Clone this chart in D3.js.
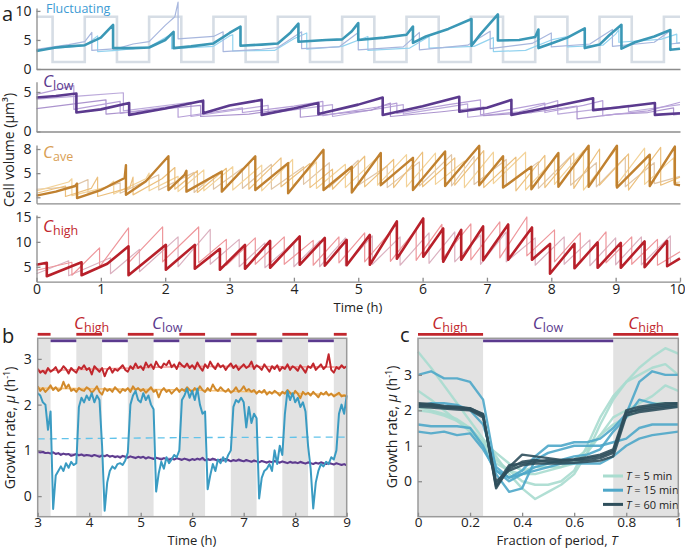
<!DOCTYPE html>
<html><head><meta charset="utf-8">
<script src="https://cdn.jsdelivr.net/npm/d3@7"></script>
<style>
body{margin:0;background:#fff}
text{font-family:"Open Sans",sans-serif;fill:#222}
</style>
</head><body>
<svg id="fig" width="685" height="549"></svg>
<script>
// ---------- panel a : cell volume traces, flat [t, v, t, v, ...] ----------
var sqSwitch = [0.25,0.75,1.25,1.75,2.25,2.75,3.25,3.75,4.25,4.75,5.25,5.75,6.25,6.75,7.25,7.75,8.25,8.75,9.25,9.75];
var sqLevels = [1.2, 9.0]; // low, high

var fluctThick = [0,3.1, 0.3,3.7, 0.5,3.9, 0.75,4.1, 1.0,5.4, 1.19,7.6, 1.19,3.6, 1.5,3.6, 1.75,3.7, 2.0,5.0, 2.13,6.4, 2.13,3.6, 2.4,3.9, 2.75,4.4, 3.0,6.2, 3.17,7.3, 3.17,4.0, 3.5,4.2, 3.75,4.4, 3.95,6.3, 4.07,7.8, 4.07,4.7, 4.5,5.0, 4.75,5.1, 4.9,6.5, 5.0,7.9, 5.0,5.0, 5.4,5.4, 5.75,5.9, 5.85,7.3, 5.85,4.5, 6.05,5.6, 6.4,6.9, 6.76,8.6, 6.76,4.0, 6.9,6.0, 7.17,9.4, 7.17,4.9, 7.5,5.0, 7.75,5.5, 7.8,6.8, 7.8,3.6, 8.0,4.4, 8.25,5.4, 8.52,7.0, 8.52,3.6, 8.75,4.2, 8.9,5.8, 9.09,7.6, 9.09,3.5, 9.3,4.6, 9.6,5.6, 9.85,6.7, 9.85,3.3, 10,3.5];
var fluctThinA = [0,3.4, 0.5,4.2, 0.75,4.7, 0.86,6.3, 0.86,3.2, 1.25,3.5, 1.5,4.3, 1.75,4.7, 2.0,7.5, 2.15,9.0, 2.2,11.5, 2.2,5.2, 2.75,5.6, 2.9,6.4, 2.9,3.0, 3.5,3.4, 3.75,3.7, 4.12,6.4, 4.12,3.5, 4.7,3.8, 5.0,6.3, 5.0,3.3, 5.7,3.8, 5.95,6.3, 5.95,3.3, 6.7,4.1, 7.05,6.5, 7.05,3.5, 7.7,4.4, 8.0,6.2, 8.0,3.8, 8.6,4.3, 8.75,5.4, 8.95,6.8, 8.95,3.9, 9.6,4.6, 9.85,6.6, 9.85,4.3, 10,4.5];
var fluctThinB = [0,3.3, 0.75,4.0, 0.95,5.7, 0.95,3.0, 1.25,3.2, 1.75,3.8, 2.1,6.0, 2.1,3.5, 2.75,3.9, 3.0,5.7, 3.05,5.9, 3.05,3.1, 3.7,3.2, 4.0,5.2, 4.2,6.2, 4.2,3.4, 4.75,3.9, 5.15,5.6, 5.15,3.2, 5.8,3.6, 6.1,5.6, 6.1,3.6, 6.8,3.9, 7.1,5.4, 7.1,3.0, 7.6,3.2, 8.0,5.0, 8.25,5.6, 8.25,3.8, 8.8,4.1, 9.0,6.0, 9.05,6.8, 9.05,4.6, 9.7,5.1, 9.95,6.0, 9.95,4.4, 10,4.5];

var lowThick = [0,4.3, 0.3,4.5, 0.62,4.8, 0.62,2.4, 1.0,2.8, 1.44,3.6, 1.44,2.1, 2.0,2.9, 2.59,3.9, 2.59,2.3, 3.0,3.3, 3.5,4.0, 3.5,2.1, 4.0,2.9, 4.38,3.6, 4.38,2.2, 5.0,3.4, 5.38,4.3, 5.38,2.1, 6.0,3.2, 6.57,4.4, 6.57,2.5, 7.0,3.0, 7.38,4.0, 7.38,2.1, 8.0,3.1, 8.65,4.2, 8.65,2.7, 9.0,3.0, 9.61,3.6, 9.61,2.1, 10,2.3];
var lowThinA = [0,4.7, 0.58,5.8, 0.58,2.8, 1.3,3.8, 1.3,2.3, 2.2,3.3, 2.2,1.8, 3.2,3.0, 3.2,2.4, 4.0,3.2, 4.45,3.8, 4.45,2.0, 5.3,3.1, 5.6,3.6, 5.6,2.3, 6.4,3.4, 6.9,4.0, 6.9,2.1, 7.9,3.6, 7.9,2.4, 8.5,3.3, 8.8,3.9, 8.8,2.0, 9.5,2.6, 10,3.7];
var lowThinB = [0,2.9, 1.08,4.0, 1.08,2.2, 1.5,2.5, 2.55,3.3, 2.55,1.9, 3.3,2.2, 4.1,3.1, 4.1,1.8, 5.2,2.7, 5.5,3.6, 5.5,1.9, 6.3,2.5, 6.95,3.1, 6.95,2.0, 7.7,2.4, 8.4,3.2, 8.4,1.6, 9.0,2.2, 9.5,2.4, 9.9,3.0, 9.9,2.1, 10,2.2];
var lowThinC = [0,4.1, 0.7,4.5, 1.35,4.9, 1.35,2.6, 2.4,3.7, 2.4,1.9, 3.6,3.3, 3.6,2.3, 4.6,3.4, 4.6,1.9, 5.7,3.4, 5.7,2.2, 6.7,3.5, 6.7,1.8, 7.5,2.5, 8.1,3.9, 8.1,2.2, 9.2,3.3, 9.2,2.5, 10,3.4];

var aveThick = [0,2.2, 0.3,2.7, 0.6,3.4, 0.63,3.7, 0.63,1.9, 1.0,2.9, 1.37,4.4, 1.39,6.0, 1.39,2.3, 1.7,4.0, 2.05,7.1, 2.05,2.9, 2.3,4.8, 2.33,5.3, 2.33,2.7, 2.88,5.2, 2.88,2.7, 3.4,7.1, 3.4,2.9, 3.91,6.25, 3.91,2.5, 4.46,7.9, 4.46,2.9, 4.9,5.8, 4.9,2.6, 5.35,7.5, 5.35,3.5, 5.85,6.9, 5.85,2.9, 6.35,7.7, 6.35,3.4, 6.88,8.4, 6.88,3.5, 7.25,7.1, 7.25,3.2, 7.69,5.8, 7.69,3.0, 8.11,7.5, 8.11,3.3, 8.58,8.4, 8.58,3.3, 9.02,8.4, 9.02,3.2, 9.53,7.3, 9.53,3.4, 9.92,8.3, 9.92,3.6, 10,3.5];
var aveThinA = [0,2.8, 0.5,3.9, 0.55,4.3, 0.55,2.2, 1.1,3.3, 1.2,4.0, 1.2,2.4, 1.7,4.3, 1.75,5.0, 1.75,2.8, 2.2,4.6, 2.2,2.7, 2.6,5.4, 2.6,2.8, 3.05,5.8, 3.05,2.9, 3.5,6.0, 3.5,2.8, 3.98,6.7, 3.98,3.4, 4.35,6.4, 4.35,3.1, 4.8,6.1, 4.8,3.2, 5.3,7.0, 5.3,3.5, 5.75,7.3, 5.75,3.3, 6.2,7.5, 6.2,3.6, 6.65,6.5, 6.65,3.2, 7.1,7.6, 7.1,3.7, 7.6,7.6, 7.6,2.9, 8.05,6.8, 8.05,3.6, 8.5,7.8, 8.5,2.9, 9.0,7.9, 9.0,3.4, 9.45,8.1, 9.45,3.6, 9.9,6.9, 9.9,3.8, 10,3.9];
var aveThinB = [0,2.5, 0.45,3.4, 0.45,2.1, 0.85,3.1, 0.95,4.5, 0.95,2.1, 1.45,3.2, 1.5,4.5, 1.5,2.3, 1.95,4.3, 2.15,5.7, 2.15,3.0, 2.5,5.3, 2.5,2.6, 2.95,5.6, 2.95,3.3, 3.3,6.2, 3.3,3.0, 3.8,6.9, 3.8,3.3, 4.25,6.2, 4.25,3.2, 4.6,5.5, 4.6,3.0, 5.1,7.1, 5.1,3.3, 5.55,6.7, 5.55,3.2, 6.0,7.6, 6.0,3.3, 6.5,6.9, 6.5,3.5, 6.95,7.8, 6.95,3.2, 7.45,7.0, 7.45,2.8, 7.9,7.2, 7.9,3.2, 8.35,7.5, 8.35,3.1, 8.75,8.0, 8.75,3.5, 9.2,7.4, 9.2,2.9, 9.7,8.2, 9.7,3.5, 10,4.5];
var aveThinC = [0,3.0, 0.55,3.3, 0.8,4.2, 0.8,2.5, 1.3,3.8, 1.3,2.5, 1.9,4.8, 1.9,2.9, 2.45,5.1, 2.45,2.6, 2.75,4.7, 2.75,3.0, 3.2,5.6, 3.2,3.1, 3.65,6.1, 3.65,3.0, 4.15,5.8, 4.15,3.6, 4.55,6.3, 4.55,3.2, 5.0,6.6, 5.0,3.5, 5.45,5.9, 5.45,3.2, 5.95,6.4, 5.95,3.4, 6.45,7.3, 6.45,3.4, 6.8,7.1, 6.8,3.6, 7.3,6.7, 7.3,3.4, 7.8,6.4, 7.8,3.1, 8.3,7.1, 8.3,3.5, 8.7,6.3, 8.7,3.3, 9.15,7.0, 9.15,3.3, 9.6,6.3, 9.6,3.7, 10,4.6];

var highThick = [0,5.4, 0.16,5.8, 0.16,3.1, 0.7,5.9, 0.7,3.3, 1.1,5.6, 1.43,9.1, 1.43,3.3, 2.01,9.4, 2.01,4.4, 2.46,9.4, 2.46,4.6, 2.85,8.6, 2.85,4.4, 3.24,9.4, 3.24,4.6, 3.63,10.2, 3.63,4.8, 4.09,11.1, 4.09,5.4, 4.48,10.8, 4.48,5.2, 4.82,10.4, 4.82,5.3, 5.18,11.4, 5.18,5.4, 5.6,14.1, 5.6,6.6, 6.01,14.7, 6.01,7.0, 6.32,12.7, 6.32,6.0, 6.6,12.4, 6.6,6.4, 6.94,13.1, 6.94,6.3, 7.33,13.5, 7.33,6.4, 7.7,12.9, 7.7,6.4, 7.98,9.6, 7.98,3.6, 8.36,9.6, 8.36,4.7, 8.72,9.9, 8.72,4.8, 9.08,9.8, 9.08,4.8, 9.45,10.1, 9.45,4.9, 9.8,10.2, 9.8,5.1, 10,6.7];
var highThinA = [0,4.3, 0.55,5.9, 0.55,3.3, 0.98,8.8, 0.98,5.0, 1.43,12.8, 1.43,5.8, 1.96,13.0, 1.96,6.0, 2.52,13.0, 2.52,5.8, 2.95,10.5, 2.95,5.3, 3.4,10.8, 3.4,5.5, 3.85,11.0, 3.85,5.5, 4.3,10.3, 4.3,5.3, 4.7,11.0, 4.7,5.8, 5.1,11.8, 5.1,6.0, 5.5,12.0, 5.5,6.1, 5.9,12.5, 5.9,6.3, 6.3,13.5, 6.3,6.5, 6.75,13.6, 6.75,6.4, 7.2,14.0, 7.2,6.8, 7.62,15.0, 7.62,7.2, 8.05,12.4, 8.05,6.0, 8.45,11.8, 8.45,5.8, 8.85,12.0, 8.85,5.8, 9.25,11.0, 9.25,5.5, 9.65,10.5, 9.65,5.3, 10,8.0];
var highThinB = [0,3.6, 0.5,6.2, 0.5,3.2, 1.15,6.8, 1.15,3.6, 1.6,8.5, 1.6,4.0, 2.2,11.0, 2.2,5.0, 2.7,12.5, 2.7,5.5, 3.15,10.5, 3.15,5.0, 3.55,9.8, 3.55,4.8, 4.0,10.0, 4.0,5.0, 4.4,10.2, 4.4,5.0, 4.8,10.8, 4.8,5.2, 5.22,11.2, 5.22,5.5, 5.65,11.0, 5.65,5.3, 6.1,11.8, 6.1,5.7, 6.5,12.0, 6.5,6.0, 6.9,11.4, 6.9,5.5, 7.3,12.0, 7.3,6.0, 7.75,10.8, 7.75,5.3, 8.2,11.0, 8.2,5.5, 8.6,10.4, 8.6,5.2, 9.0,10.8, 9.0,5.4, 9.4,11.0, 9.4,5.4, 9.85,11.2, 9.85,5.5, 10,6.5];

// ---------- panel b : growth rate vs time (every 0.05 h, 3 -> 9 h) ----------
var bRed = [2.78,2.70,2.74,2.68,2.80,2.72,2.76,2.82,2.70,2.75,2.84,2.78,2.68,2.80,2.74,2.70,2.82,2.78,2.86,2.76,
 2.80,2.66,2.84,2.78,2.72,2.80,2.62,2.76,2.82,2.70,2.78,2.74,2.80,2.86,2.76,2.72,2.84,2.78,2.90,2.80,
 2.84,2.76,2.92,2.82,2.88,2.78,2.94,2.84,2.80,2.90,2.86,2.96,2.82,2.88,2.78,2.92,2.86,2.82,2.90,2.80,
 2.86,2.78,2.92,2.82,2.74,2.88,2.80,2.94,2.84,2.78,2.90,2.82,2.86,2.76,2.84,2.90,2.80,2.86,2.76,2.82,
 2.88,2.80,2.84,2.94,2.78,2.86,2.82,2.76,2.88,2.80,2.72,2.84,2.78,2.86,2.74,2.82,2.78,2.88,2.76,2.84,
 2.80,2.74,2.86,2.78,2.70,2.84,2.80,2.90,2.76,2.82,2.88,2.78,2.84,3.10,2.76,2.70,2.82,2.78,2.86,2.80,2.84];
var bOrange = [2.40,2.30,2.36,2.28,2.34,2.42,2.32,2.38,2.30,2.34,2.50,2.36,2.44,2.30,2.34,2.28,2.36,2.32,2.30,2.38,
 2.34,2.26,2.32,2.40,2.28,2.22,2.36,2.30,2.34,2.28,2.38,2.32,2.26,2.34,2.30,2.36,2.28,2.40,2.32,2.36,
 2.30,2.34,2.26,2.32,2.38,2.28,2.32,2.16,2.30,2.36,2.28,2.32,2.24,2.30,2.36,2.28,2.34,2.30,2.38,2.32,
 2.28,2.36,2.30,2.40,2.32,2.28,2.36,2.30,2.44,2.34,2.30,2.38,2.32,2.28,2.34,2.26,2.30,2.38,2.28,2.32,
 2.40,2.30,2.34,2.28,2.32,2.24,2.30,2.26,2.32,2.22,2.28,2.24,2.30,2.26,2.20,2.28,2.24,2.32,2.26,2.20,
 2.30,2.24,2.14,2.28,2.22,2.26,2.20,2.28,2.22,2.16,2.26,2.22,2.28,2.20,2.24,2.18,2.22,2.26,2.18,2.20,2.18];
var bPurple = [0.98,0.96,0.97,0.94,0.95,0.93,0.96,0.92,0.94,0.90,0.93,0.91,0.92,0.88,0.90,0.92,0.89,0.91,0.88,0.90,
 0.89,0.87,0.90,0.88,0.86,0.89,0.87,0.90,0.86,0.88,0.85,0.87,0.84,0.88,0.86,0.84,0.87,0.85,0.83,0.86,
 0.84,0.86,0.82,0.85,0.83,0.81,0.84,0.82,0.80,0.83,0.81,0.79,0.82,0.80,0.83,0.81,0.79,0.82,0.80,0.78,
 0.81,0.79,0.82,0.80,0.84,0.78,0.81,0.79,0.82,0.80,0.77,0.80,0.78,0.81,0.79,0.76,0.79,0.77,0.80,0.78,
 0.76,0.79,0.77,0.75,0.78,0.76,0.74,0.77,0.75,0.73,0.76,0.74,0.77,0.75,0.73,0.76,0.74,0.72,0.75,0.73,
 0.74,0.72,0.75,0.73,0.71,0.74,0.72,0.70,0.73,0.71,0.74,0.72,0.70,0.73,0.71,0.69,0.72,0.70,0.68,0.70,0.67];
var bBlue = [2.25,2.20,2.05,2.00,1.45,1.85,-0.28,0.45,0.55,0.65,0.55,0.72,0.62,0.75,0.68,0.72,1.95,2.15,2.05,2.20,
 2.10,2.25,2.05,2.20,2.10,1.10,-0.32,0.30,0.55,0.65,0.60,0.70,0.72,0.68,0.78,0.95,2.00,2.20,2.30,2.10,
 2.05,2.25,2.10,2.20,2.00,1.90,0.10,0.50,0.75,0.60,0.85,0.72,0.80,0.90,0.85,1.00,2.10,2.20,2.35,2.15,
 2.30,2.10,2.35,2.00,1.80,1.85,0.15,0.45,0.70,0.55,0.80,0.72,0.85,0.75,0.90,1.00,1.95,2.10,2.05,2.15,
 2.05,1.50,1.95,1.60,1.80,1.70,-0.05,0.40,0.55,0.60,0.70,0.55,1.00,0.70,1.10,0.90,1.80,2.30,2.10,2.25,
 2.05,2.15,1.95,2.05,1.85,1.10,0.60,-0.27,0.30,0.55,0.70,0.65,0.75,0.70,0.85,0.80,1.00,1.80,2.00,1.80,2.20];
var bFitT = [3, 6, 9];
var bRedFit = [2.74, 2.84, 2.82];
var bOrangeFit = [2.36, 2.32, 2.21];
var bPurpleFit = [0.95, 0.80, 0.69];
var bBlueMean = [1.25, 1.28, 1.29];
var bHighStart = [3.0, 3.75, 4.75, 5.75, 6.75, 7.75, 8.75];
var bHighEnd   = [3.25, 4.25, 5.25, 6.25, 7.25, 8.25, 9.0];

// ---------- panel c : growth rate vs fraction of period ----------
var cFrac = [0,0.05,0.1,0.15,0.2,0.25,0.3,0.35,0.4,0.45,0.5,0.55,0.6,0.65,0.7,0.75,0.8,0.85,0.9,0.95,1];
var cT5 = [
 [3.65,3.2,2.7,2.2,1.7,1.2,0.7,0.2,-0.2,-0.5,-0.3,-0.1,0.2,0.8,1.6,2.3,2.8,3.2,3.5,3.75,3.6],
 [2.55,2.3,2.0,1.7,1.4,1.0,0.5,0.3,0.0,-0.1,-0.1,0.0,0.3,1.0,1.8,2.4,2.8,3.0,3.2,3.3,3.0],
 [2.1,2.0,1.9,1.75,1.5,1.1,0.6,0.3,0.2,0.2,0.3,0.4,0.5,0.8,1.3,1.8,2.0,2.2,2.4,2.7,2.55],
 [2.0,1.95,1.85,1.7,1.5,1.1,0.8,0.5,0.3,0.4,0.4,0.4,0.6,0.9,1.3,1.6,1.8,2.0,2.2,2.2,2.2]];
var cT15 = [
 [3.0,3.1,2.9,2.9,2.8,2.3,0.3,0.1,0.3,0.7,1.0,1.0,1.1,1.1,1.2,1.5,1.9,2.8,3.1,3.0,3.0],
 [1.6,1.55,1.55,1.55,1.5,1.0,0.2,-0.3,-0.2,0.6,0.8,0.9,1.0,1.0,1.0,1.1,1.2,1.5,1.6,1.6,1.6],
 [1.4,1.35,1.4,1.3,1.35,0.9,0.3,0.0,0.2,0.3,0.4,0.5,0.5,0.5,0.5,0.7,1.0,1.2,1.3,1.35,1.4],
 [2.1,2.2,2.2,2.15,2.0,1.6,0.4,0.1,0.2,0.4,0.5,0.6,0.7,0.75,0.9,1.4,1.8,2.3,2.2,2.1,2.1]];
var cT60 = [
 [2.15,2.12,2.08,2.06,2.02,1.85,-0.15,0.35,0.55,0.6,0.55,0.55,0.6,0.6,0.65,0.8,1.95,2.0,2.05,2.1,2.15],
 [2.2,2.18,2.12,2.1,2.05,1.9,-0.2,0.4,0.75,0.7,0.65,0.6,0.62,0.68,0.75,0.9,2.0,2.1,2.15,2.2,2.2],
 [2.1,2.08,2.05,2.02,2.0,1.8,0.0,0.3,0.45,0.5,0.5,0.5,0.52,0.55,0.58,0.7,1.85,1.95,2.0,2.05,2.1],
 [2.18,2.15,2.1,2.08,2.06,1.88,-0.1,0.45,0.5,0.55,0.6,0.58,0.6,0.65,0.7,0.85,1.9,2.05,2.1,2.15,2.2]];
var cLegend = ["5 min", "15 min", "60 min"];

// ---------- drawing ----------
var svg = d3.select("#fig");
var AX = "#8c8c8c", BAND = "#e2e2e2";
var RED = "#c1272d", PURP = "#5b3a8e";
var FS = "14px";

function pairs(flat) {
    var out = [];
    for (var i = 0; i < flat.length; i += 2) out.push([flat[i], flat[i + 1]]);
    return out;
}

// italic C with subscript label
function condLabel(g, x, y, sub, color, anchor) {
    var t = g.append("text").attr("x", x).attr("y", y)
        .style("fill", color).attr("text-anchor", anchor || "start");
    t.append("tspan").text("C").style("font-size", "17px").style("font-style", "italic").style("fill", color);
    t.append("tspan").text(sub).attr("dy", 3).style("font-size", "12.5px").style("fill", color);
    return t;
}

function styleAxis(a, fs) {
    a.selectAll("path,line").style("stroke", AX).style("stroke-width", 1.3);
    a.selectAll("text").style("font-size", fs || FS).style("font-family", "Open Sans").style("fill", "#222");
}

/* ===== panel a ===== */
var xa = d3.scaleLinear().domain([0, 10]).range([36.5, 680]);
var subs = [
    {dom: [0, 10.5], rng: [69, 8], ticks: [0, 5, 10],
     lines: [[fluctThinB, "#93d3ef"], [fluctThinA, "#a8b7de"], [fluctThick, "#3b98b6", 2.6]]},
    {dom: [0, 6.3], rng: [131.5, 81.7], ticks: [0, 5],
     lines: [[lowThinC, "#bcaadb"], [lowThinB, "#ac94ce"], [lowThinA, "#b7a0d8"], [lowThick, PURP, 2.6]]},
    {dom: [1.25, 8.5], rng: [203.3, 145], ticks: [2, 5, 8],
     lines: [[aveThinC, "#e0c6a8"], [aveThinA, "#f3d39a"], [aveThinB, "#ecc07e"], [aveThick, "#c08130", 2.4]]},
    {dom: [2, 15.4], rng: [281.7, 215], ticks: [5, 10, 15],
     lines: [[highThinB, "#dbb1c0"], [highThinA, "#ee979c"], [highThick, "#b8202a", 2.6]]}
];

var ga = svg.append("g");
subs.forEach(function (s, i) {
    var y = d3.scaleLinear().domain(s.dom).range(s.rng);
    if (i === 0) {
        // nutrient square wave
        var pts = [[0, sqLevels[1]]], lvl = 1;
        sqSwitch.forEach(function (t) {
            pts.push([t, sqLevels[lvl]]);
            lvl = 1 - lvl;
            pts.push([t, sqLevels[lvl]]);
        });
        pts.push([10, sqLevels[lvl]]);
        ga.append("path")
            .attr("d", d3.line().x(function (d) { return xa(d[0]); }).y(function (d) { return y(d[1]); })(pts))
            .style("fill", "none").style("stroke", "#d6dde5").style("stroke-width", 2.6);
    }
    var line = d3.line().x(function (d) { return xa(d[0]); }).y(function (d) { return y(d[1]); });
    s.lines.forEach(function (l) {
        ga.append("path").attr("d", line(pairs(l[0])))
            .style("fill", "none").style("stroke", l[1])
            .style("stroke-width", l[2] || 1.2)
            .style("stroke-linejoin", "round");
    });

    var yAx = ga.append("g").attr("transform", "translate(" + xa.range()[0] + ",0)")
        .call(d3.axisLeft(y).tickValues(s.ticks).tickFormat(d3.format("d"))
            .tickSize(-4).tickSizeOuter(0).tickPadding(5));
    styleAxis(yAx);

    var bAx = ga.append("g").attr("transform", "translate(0," + s.rng[0] + ")")
        .call(d3.axisBottom(xa).ticks(10).tickSize(i === 3 ? -4 : 0).tickSizeOuter(0).tickPadding(2));
    styleAxis(bAx);
    if (i !== 3) bAx.selectAll("text").remove();
    else bAx.selectAll("text").filter(function (d) { return d === 10; }).attr("dx", -3);
});

ga.append("text").attr("x", 46).attr("y", 13).text("Fluctuating")
    .style("font-size", "12.5px").style("fill", "#3d9bd4");
condLabel(ga, 43, 87, "low", PURP);
condLabel(ga, 43, 158, "ave", "#d9a055");
condLabel(ga, 43, 232, "high", RED);

ga.append("text").attr("transform", "translate(14,150) rotate(-90)")
    .attr("text-anchor", "middle").style("font-size", FS).text("Cell volume (µm³)");
ga.append("text").attr("x", 358).attr("y", 312).attr("text-anchor", "middle")
    .style("font-size", "13px").text("Time (h)");

/* ===== shared helper for panels b, c ===== */
function framedPanel(xs, ys, bands, yTicks, xTicks, xFmt) {
    var g = svg.append("g");
    var x0 = xs.range()[0], x1 = xs.range()[1], y0 = ys.range()[0], y1 = ys.range()[1];
    bands.forEach(function (b) {
        g.append("rect").attr("x", xs(b[0])).attr("width", xs(b[1]) - xs(b[0]))
            .attr("y", y1).attr("height", y0 - y1).style("fill", BAND);
    });
    var body = g.append("g");
    g.append("rect").attr("x", x0).attr("y", y1).attr("width", x1 - x0).attr("height", y0 - y1)
        .style("fill", "none").style("stroke", "#9a9a9a").style("stroke-width", 1.5);
    var yAx = g.append("g").attr("transform", "translate(" + x0 + ",0)")
        .call(d3.axisLeft(ys).tickValues(yTicks).tickFormat(d3.format("d"))
            .tickSize(-4).tickSizeOuter(0).tickPadding(6));
    var xAx = g.append("g").attr("transform", "translate(0," + y0 + ")")
        .call(d3.axisBottom(xs).tickValues(xTicks).tickFormat(xFmt).tickSize(-4).tickSizeOuter(0).tickPadding(1));
    yAx.select(".domain").remove();
    xAx.select(".domain").remove();
    styleAxis(yAx);
    styleAxis(xAx, "13.5px");
    return body;
}

/* ===== panel b ===== */
var xb = d3.scaleLinear().domain([3, 9]).range([37.7, 346.7]);
var yb = d3.scaleLinear().domain([-0.45, 3.45]).range([516.7, 338.3]);
var bTimes = bRed.map(function (d, i) { return 3 + i * 0.05; });
var bBands = bHighStart.map(function (s, i) { return [s, bHighEnd[i]]; });
var gb = framedPanel(xb, yb, bBands, [0, 1, 2, 3], [3, 4, 5, 6, 7, 8, 9], d3.format("d"));

var lineB = d3.line().x(function (d) { return xb(d[0]); }).y(function (d) { return yb(d[1]); });
function zipT(ts, vs) { return ts.map(function (t, i) { return [t, vs[i]]; }); }

gb.append("path").attr("d", lineB(zipT(bFitT, bBlueMean)))
    .style("fill", "none").style("stroke", "#62c3ea").style("stroke-width", 1.3).style("stroke-dasharray", "7,5");
[[bRedFit, "#f39a98"], [bOrangeFit, "#f6c27a"], [bPurpleFit, "#b9a5d9"]].forEach(function (f) {
    gb.append("path").attr("d", lineB(zipT(bFitT, f[0])))
        .style("fill", "none").style("stroke", f[1]).style("stroke-width", 1.6);
});
[[bRed, "#c1272d"], [bOrange, "#d28a2b"], [bPurple, "#5e3c8e"], [bBlue, "#3a9bc2"]].forEach(function (s) {
    gb.append("path").attr("d", lineB(zipT(bTimes, s[0])))
        .style("fill", "none").style("stroke", s[1]).style("stroke-width", 2)
        .style("stroke-linejoin", "round");
});

// condition bars above panel b
bBands.forEach(function (b) {
    svg.append("line").attr("x1", xb(b[0])).attr("x2", xb(b[1])).attr("y1", 334.3).attr("y2", 334.3)
        .style("stroke", RED).style("stroke-width", 2.8);
});
bHighEnd.slice(0, -1).forEach(function (e, i) {
    svg.append("line").attr("x1", xb(e)).attr("x2", xb(bHighStart[i + 1])).attr("y1", 340.8).attr("y2", 340.8)
        .style("stroke", PURP).style("stroke-width", 2.8);
});
condLabel(svg, 74, 329, "high", RED);
condLabel(svg, 152, 329, "low", PURP);

svg.append("text").attr("transform", "translate(15,428) rotate(-90)").attr("text-anchor", "middle")
    .style("font-size", FS).html("Growth rate, <tspan font-style='italic'>μ</tspan> (h<tspan dy='-5' font-size='9px'>-1</tspan><tspan dy='5'>)</tspan>");
svg.append("text").attr("x", 192).attr("y", 545).attr("text-anchor", "middle")
    .style("font-size", "13px").text("Time (h)");

/* ===== panel c ===== */
var xc = d3.scaleLinear().domain([0, 1]).range([418, 678.3]);
var yc = d3.scaleLinear().domain([-1, 4.03]).range([516.7, 338.3]);
var gc = framedPanel(xc, yc, [[0, 0.25], [0.75, 1]], [0, 1, 2, 3], [0, 0.2, 0.4, 0.6, 0.8, 1],
    function (d) { return d === 0 || d === 1 ? d3.format("d")(d) : d3.format(".1f")(d); });

var lineC = d3.line().x(function (d) { return xc(d[0]); }).y(function (d) { return yc(d[1]); });
var cGroups = [[cT5, "#a9dccf"], [cT15, "#4ea7c9"], [cT60, "#2f4f5c"]];
cGroups.forEach(function (grp) {
    grp[0].forEach(function (vals) {
        gc.append("path").attr("d", lineC(zipT(cFrac, vals)))
            .style("fill", "none").style("stroke", grp[1]).style("stroke-width", 2.4)
            .style("stroke-opacity", 0.9).style("stroke-linejoin", "round");
    });
});

// legend
cLegend.forEach(function (lab, i) {
    var yy = 476 + i * 14.2;
    gc.append("line").attr("x1", 603).attr("x2", 623).attr("y1", yy).attr("y2", yy)
        .style("stroke", cGroups[i][1]).style("stroke-width", 3);
    gc.append("text").attr("x", 626).attr("y", yy + 4.2).style("font-size", "11px")
        .html("<tspan font-style='italic'>T</tspan> = " + lab);
});

// condition bars above panel c
[[0, 0.25], [0.75, 1]].forEach(function (b) {
    svg.append("line").attr("x1", xc(b[0])).attr("x2", xc(b[1])).attr("y1", 334.3).attr("y2", 334.3)
        .style("stroke", RED).style("stroke-width", 2.8);
});
svg.append("line").attr("x1", xc(0.25)).attr("x2", xc(0.75)).attr("y1", 340.8).attr("y2", 340.8)
    .style("stroke", PURP).style("stroke-width", 2.8);
condLabel(svg, 450, 329, "high", RED, "middle");
condLabel(svg, 548, 329, "low", PURP, "middle");
condLabel(svg, 646, 329, "high", RED, "middle");

svg.append("text").attr("transform", "translate(397,427) rotate(-90)").attr("text-anchor", "middle")
    .style("font-size", FS).html("Growth rate, <tspan font-style='italic'>μ</tspan> (h<tspan dy='-5' font-size='9px'>-1</tspan><tspan dy='5'>)</tspan>");
svg.append("text").attr("x", 557).attr("y", 545).attr("text-anchor", "middle")
    .style("font-size", "13px").html("Fraction of period, <tspan font-style='italic'>T</tspan>");

// panel letters
[["a", 2, 21], ["b", 2, 343], ["c", 400, 342]].forEach(function (p) {
    svg.append("text").attr("x", p[1]).attr("y", p[2]).text(p[0]).style("font-size", "20px");
});
</script>
</body></html>
